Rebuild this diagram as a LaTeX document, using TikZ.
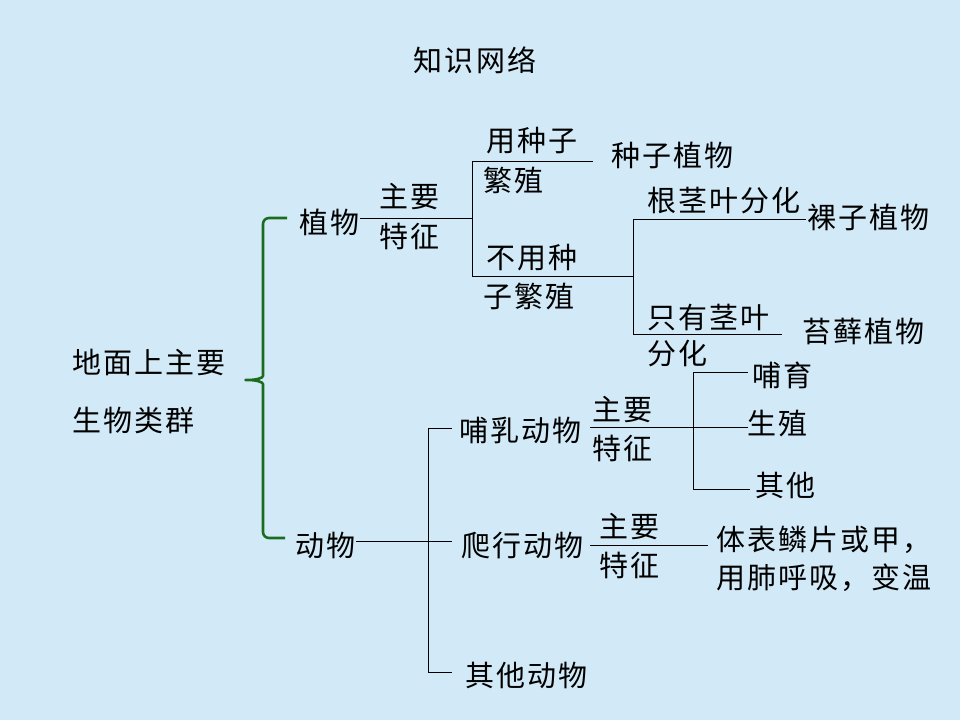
\documentclass[tikz,border=0pt]{standalone}
\usepackage{fontspec}
\usepackage{xcolor}
\usepackage{tikz}
\usetikzlibrary{positioning}
\newfontfamily\cjk[LetterSpace=7]{Noto Sans CJK SC}
\definecolor{bgblue}{RGB}{210,234,247}
\definecolor{bracegreen}{RGB}{28,108,32}

\begin{document}
\begin{tikzpicture}[
    x=1pt, y=-1pt,
    txt/.style={font=\cjk\fontsize{29}{34}\selectfont, inner sep=1pt, anchor=west},
    line/.style={black, line width=0.9pt},
    brace/.style={bracegreen, line width=2.6pt, rounded corners=6pt, line join=round}
]

\useasboundingbox (0,0) rectangle (960,720);
\fill[bgblue] (0,0) rectangle (960,720);

\node[txt, anchor=center] (title) at (475,60) {知识网络};

% root and the two groups
\node[txt] (root) at (71,362) {地面上主要};
\node[txt] (root2) at (71,420) {生物类群};
\node[txt] (plants) at (298,222) {植物};
\node[txt] (animals) at (294,545) {动物};

\coordinate (btop) at (287,218);
\coordinate (bmid) at (242,380);
\coordinate (bbot) at (285,538);
\draw[brace] (btop) -- (263,218) -- (263,370) .. controls (263,378) and (256,380) .. (bmid)
    .. controls (256,380) and (263,382) .. (263,390) -- (263,538) -- (bbot);

% plants
\node[txt] (pkey1) at (378,197) {主要};
\node[txt] (pkey2) at (378,236) {特征};
\node[txt] (seed1) at (485,141) {用种子};
\node[txt] (seed2) at (482,180) {繁殖};
\node[txt] (noseed1) at (485,258) {不用种};
\node[txt] (noseed2) at (482,296) {子繁殖};
\node[txt] (seedp) at (610,155) {种子植物};
\node[txt] (root3) at (646,201) {根茎叶分化};
\node[txt] (gymno) at (806,217) {裸子植物};
\node[txt] (stem1) at (646,318) {只有茎叶};
\node[txt] (stem2) at (646,354) {分化};
\node[txt] (moss) at (801,331) {苔藓植物};

\coordinate (pj) at (472,218);
\coordinate (pa) at (472,161);
\coordinate (pb) at (472,276);
\coordinate (pae) at (593,161);
\coordinate (pc) at (633,276);
\coordinate (pc1) at (633,219);
\coordinate (pc2) at (633,334);
\coordinate (pce) at (782,334);

\draw[line] (plants.east |- pj) -- (pj);
\draw[line] (pa) -- (pb);
\draw[line] (pa) -- (pae);
\draw[line] (pb) -- (pc);
\draw[line] (pc1) -- (pc2);
\draw[line] (pc1) -- (gymno.west |- pc1);
\draw[line] (pc2) -- (pce);

% animals
\node[txt] (mammal) at (458,430) {哺乳动物};
\node[txt] (reptile) at (460,545) {爬行动物};
\node[txt] (others) at (464,675) {其他动物};
\node[txt] (mkey1) at (591,410) {主要};
\node[txt] (mkey2) at (591,448) {特征};
\node[txt] (nurse) at (751,375) {哺育};
\node[txt] (breed) at (746,424) {生殖};
\node[txt] (mother) at (754,485) {其他};
\node[txt] (rkey1) at (598,527) {主要};
\node[txt] (rkey2) at (598,565) {特征};
\node[txt] (rdesc1) at (715,540) {体表鳞片或甲，};
\node[txt] (rdesc2) at (715,578) {用肺呼吸，变温};

\coordinate (am) at (452,541);
\coordinate (a1) at (428,428);
\coordinate (a3) at (428,672);
\coordinate (a1e) at (452,428);
\coordinate (a3e) at (452,672);
\coordinate (m0) at (590,427);
\coordinate (m1) at (748,427);
\coordinate (mv1) at (693,372);
\coordinate (mv3) at (693,489);
\coordinate (mv1e) at (748,372);
\coordinate (mv3e) at (750,489);
\coordinate (r0) at (590,545);
\coordinate (r1) at (708,545);

\draw[line] (animals.east |- am) -- (am);
\draw[line] (a1) -- (a3);
\draw[line] (a1) -- (a1e);
\draw[line] (a3) -- (a3e);
\draw[line] (m0) -- (m1);
\draw[line] (mv1) -- (mv3);
\draw[line] (mv1) -- (mv1e);
\draw[line] (mv3) -- (mv3e);
\draw[line] (r0) -- (r1);

\end{tikzpicture}
\end{document}
